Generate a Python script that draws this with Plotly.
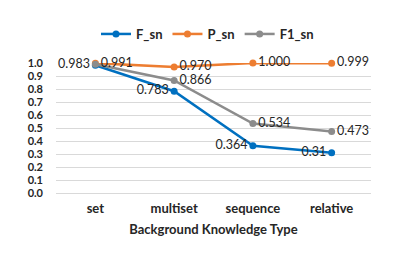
import plotly.graph_objects as go

categories = ["set", "multiset", "sequence", "relative"]
f_sn = [0.983, 0.783, 0.364, 0.31]
p_sn = [0.999, 0.970, 1.000, 0.999]
f1_sn = [0.991, 0.866, 0.534, 0.473]
f_labels = ["0.983", "0.783", "0.364", "0.31"]
p_labels = ["", "0.970", "1.000", "0.999"]
f1_labels = ["0.991", "0.866", "0.534", "0.473"]
y_ticks = [0.0, 0.1, 0.2, 0.3, 0.4, 0.5, 0.6, 0.7, 0.8, 0.9, 1.0]

FONT = "Lato"
TXT = "#262626"
W, H = 399, 254  # page body has an 8px margin
fig = go.Figure()
series = [
    ("F_sn", f_sn, f_labels, "#0070C0", "middle left"),
    ("P_sn", p_sn, p_labels, "#ED7D31", "middle right"),
    ("F1_sn", f1_sn, f1_labels, "#8C8C8C", "middle right"),
]
for name, vals, labels, color, pos in series:
    fig.add_trace(go.Scatter(
        x=categories, y=vals, name=name, mode="lines+markers+text",
        text=labels, textposition=pos, cliponaxis=False,
        textfont=dict(family=FONT, size=12.5, color=TXT),
        line=dict(color=color, width=2.5),
        marker=dict(color=color, size=7),
    ))

fig.update_layout(
    width=W, height=H,
    margin=dict(l=48, r=36, t=55, b=69, autoexpand=False),
    paper_bgcolor="white", plot_bgcolor="white",
    font=dict(family=FONT, size=12, color=TXT),
    showlegend=True,
    legend=dict(orientation="h", x=0.5, xanchor="center",
                y=1 - 26 / H, yanchor="middle",
                xref="container", yref="container",
                font=dict(family=FONT, size=13, color=TXT, weight="bold"),
                tracegroupgap=0),
    xaxis=dict(range=[-0.5, 3.5], showgrid=False, showline=False, zeroline=False,
               tickfont=dict(family=FONT, size=13, color=TXT, weight="bold"),
               ticks="", ticklabelstandoff=6,
               title=dict(text="Background Knowledge Type",
                          font=dict(family=FONT, size=13, color=TXT, weight="bold"),
                          standoff=9)),
    yaxis=dict(range=[0, 1.0], tickvals=y_ticks, tickformat=".1f",
               showgrid=True, gridcolor="#D9D9D9", gridwidth=1,
               zeroline=True, zerolinecolor="#D9D9D9", zerolinewidth=1,
               showline=False, ticks="", ticklabelstandoff=12,
               tickfont=dict(family=FONT, size=11, color=TXT, weight="bold")),
)
fig.write_html("out.html")
